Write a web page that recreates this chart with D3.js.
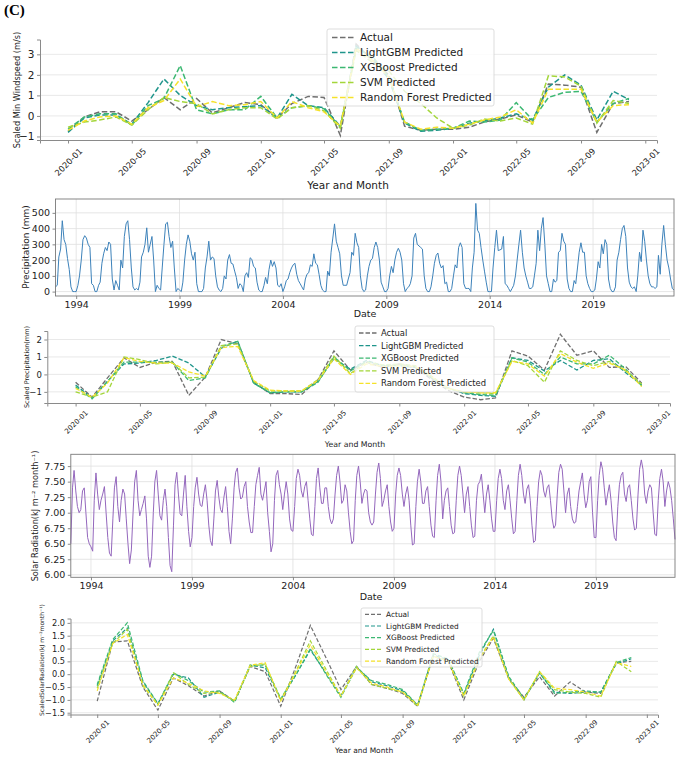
<!DOCTYPE html>
<html>
<head>
<meta charset="utf-8">
<script src="https://cdn.jsdelivr.net/npm/d3@7"></script>
<style>
  body { margin: 0; background: #fff; }
  svg { display: block; font-family: "DejaVu Sans", sans-serif; }
</style>
</head>
<body>
<div id="root"></div>
<script>
const svgWidth = 685;
const svgHeight = 757;

// test period shared by the three prediction panels
const testMonths = [
  "2020-01","2020-02","2020-03","2020-04","2020-05","2020-06","2020-07","2020-08","2020-09","2020-10","2020-11","2020-12",
  "2021-01","2021-02","2021-03","2021-04","2021-05","2021-06","2021-07","2021-08","2021-09","2021-10","2021-11","2021-12",
  "2022-01","2022-02","2022-03","2022-04","2022-05","2022-06","2022-07","2022-08","2022-09","2022-10","2022-11","2022-12"];
const testTicks = ["2020-01","2020-05","2020-09","2021-01","2021-05","2021-09","2022-01","2022-05","2022-09","2023-01"];
const modelNames = ["Actual", "LightGBM Predicted", "XGBoost Predicted", "SVM Predicted", "Random Forest Predicted"];
const modelColors = ["#6f6f6f", "#1f958b", "#3cb872", "#a3d63a", "#f5e22a"];

// scaled min windspeed
const windActual = [-0.75,-0.05,0.2,0.2,-0.25,0.3,0.9,0.3,0.85,0.15,0.4,0.65, 0.55,-0.1,0.6,0.95,0.9,-0.95,3.5,2.7,2.0,-0.5,-0.7,-0.65, -0.65,-0.55,-0.3,-0.15,0.05,-0.3,1.55,1.5,1.4,-0.8,0.6,0.7];
const windLGBM   = [-0.8,-0.1,0.05,0.05,-0.4,0.65,1.8,1.0,0.5,0.3,0.4,0.45, 0.5,-0.1,1.05,0.5,0.4,-0.5,3.4,2.8,1.8,-0.35,-0.75,-0.7, -0.6,-0.35,-0.25,-0.1,0.1,-0.2,1.4,2.0,1.5,-0.2,1.2,0.8];
const windXGB    = [-0.65,-0.05,0.1,0.1,-0.45,0.5,0.85,2.45,0.3,0.1,0.3,0.3, 0.95,-0.1,0.4,0.5,0.35,-0.55,3.3,2.9,1.9,-0.3,-0.7,-0.65, -0.6,-0.25,-0.3,-0.2,0.65,-0.2,0.9,1.15,1.2,-0.3,0.6,0.85];
const windSVM    = [-0.55,-0.3,-0.2,-0.05,-0.45,0.3,0.9,0.7,0.6,0.1,0.3,0.4, 0.4,-0.15,0.4,0.5,0.25,-0.6,3.2,2.6,2.2,1.2,0.6,-0.1, -0.6,-0.45,-0.15,-0.25,-0.1,-0.4,1.95,1.9,1.45,-0.35,0.75,0.6];
const windRF     = [-0.7,-0.25,-0.05,0.0,-0.4,0.4,0.75,1.8,0.45,0.7,0.5,0.55, 0.7,-0.1,0.7,0.4,0.2,-0.5,3.3,2.7,1.9,-0.3,-0.65,-0.55, -0.6,-0.4,-0.2,-0.05,0.3,-0.35,1.3,1.3,1.3,-0.3,0.5,0.55];

// scaled precipitation
const precActual = [-0.45,-1.3,-0.2,0.95,0.4,0.7,0.75,-1.2,-0.15,2.0,1.75,-0.45, -1.1,-1.1,-1.15,-0.3,1.35,0.25,0.7,0.4,0.6,0.4,-0.3,-0.9, -1.3,-1.45,-1.35,1.35,1.05,0.25,2.3,1.1,1.35,0.4,0.45,-0.5];
const precLGBM   = [-0.6,-1.35,-0.4,0.6,0.65,0.8,1.05,0.65,-0.15,1.5,1.9,-0.5, -1.05,-1.0,-1.0,-0.4,0.9,0.3,0.8,0.5,0.5,0.4,-0.2,-0.75, -1.1,-1.2,-1.25,0.95,0.8,0.2,0.8,0.25,0.8,0.9,0.1,-0.6];
const precXGB    = [-0.7,-1.4,-0.4,0.7,0.7,0.7,0.7,-0.35,-0.2,1.6,1.9,-0.5, -1.05,-1.0,-1.0,-0.45,1.0,0.2,0.75,0.5,0.55,0.45,-0.2,-0.8, -1.05,-1.15,-1.2,0.95,0.7,0.0,1.0,0.6,0.6,1.1,0.3,-0.65];
const precSVM    = [-1.0,-1.3,-1.0,1.0,0.85,0.6,0.7,-0.2,-0.15,1.65,1.75,-0.4, -0.95,-0.95,-0.95,-0.3,1.05,0.05,0.7,0.55,0.6,0.5,-0.1,-0.8, -1.0,-1.05,-1.1,0.8,0.5,-0.45,1.35,0.8,0.5,0.75,0.2,-0.55];
const precRF     = [-0.8,-1.3,-0.5,0.95,0.75,0.65,0.65,0.15,-0.1,1.55,1.6,-0.35, -0.9,-0.95,-0.95,-0.35,0.9,0.0,0.6,0.45,0.5,0.45,-0.15,-0.8, -1.0,-1.05,-1.05,0.75,0.6,-0.1,1.2,0.7,0.35,0.65,0.25,-0.7];

// scaled solar radiation
const solActual = [-1.05,1.25,1.3,-0.5,-1.4,-0.15,-0.45,-0.85,-0.65,-1.05,0.3,0.1, -1.25,0.35,1.9,0.65,-0.6,0.3,-0.4,-0.55,-0.75,-1.25,0.7,0.5, -1.0,0.5,1.4,-0.2,-0.9,-0.1,-0.85,-0.3,-0.7,-0.75,0.45,0.5];
const solLGBM   = [-0.45,1.3,1.8,-0.3,-1.15,0.0,-0.15,-0.9,-0.7,-1.05,0.35,0.25, -1.0,0.0,0.95,0.05,-0.85,0.3,-0.3,-0.45,-0.65,-1.2,0.75,0.55, -0.8,0.75,1.75,-0.15,-1.0,0.05,-0.7,-0.75,-0.7,-0.7,0.4,0.6];
const solXGB    = [-0.4,1.35,2.0,-0.25,-1.15,0.05,-0.25,-0.7,-0.65,-1.1,0.35,0.35, -0.95,0.0,1.0,0.0,-0.9,0.25,-0.25,-0.4,-0.6,-1.2,0.8,0.6, -0.75,0.85,1.7,-0.1,-0.95,0.05,-0.75,-0.7,-0.65,-0.7,0.45,0.65];
const solSVM    = [-0.55,1.2,1.75,-0.45,-1.2,0.05,-0.4,-0.75,-0.7,-1.05,0.3,0.4, -1.0,0.15,1.3,0.2,-0.85,0.3,-0.4,-0.55,-0.7,-1.25,0.7,0.5, -0.85,0.6,1.5,-0.2,-1.0,0.1,-0.6,-0.7,-0.75,-0.9,0.5,0.1];
const solRF     = [-0.65,1.2,1.55,-0.4,-1.2,-0.15,-0.35,-0.65,-0.75,-1.0,0.35,0.45, -1.05,0.1,1.15,0.1,-0.85,0.25,-0.35,-0.5,-0.7,-1.2,0.7,0.5, -0.85,0.6,1.45,-0.2,-1.0,0.1,-0.55,-0.6,-0.7,-0.85,0.45,0.3];

// long monthly records 1993-2022
const years = ["1993","1994","1995","1996","1997","1998","1999","2000","2001","2002","2003","2004","2005","2006","2007",
  "2008","2009","2010","2011","2012","2013","2014","2015","2016","2017","2018","2019","2020","2021","2022"];
const yearTicks = ["1994","1999","2004","2009","2014","2019"];

const precipMonthly = [
  [30,40,220,270,450,330,300,210,140,30,0,0],
  [0,40,100,200,330,355,340,300,280,50,40,0],
  [0,40,60,180,240,280,260,315,300,80,10,70],
  [40,10,200,150,350,430,450,330,150,30,10,20],
  [10,60,220,250,300,405,250,300,350,200,0,40],
  [20,10,150,300,430,440,350,280,320,150,0,20],
  [10,0,60,200,300,360,320,240,200,250,50,0],
  [0,0,20,150,220,320,200,220,210,100,30,10],
  [0,20,100,80,200,235,180,175,130,90,20,50],
  [40,0,100,120,90,215,205,160,150,60,10,0],
  [0,40,90,50,140,200,160,190,150,40,30,50],
  [0,30,70,80,120,150,170,180,110,70,50,30],
  [10,80,110,120,170,160,240,180,170,110,40,10],
  [0,0,130,100,250,340,430,320,280,240,100,40],
  [40,40,80,120,250,230,370,310,280,100,20,0],
  [10,100,160,200,210,280,315,280,200,60,30,0],
  [0,20,100,160,120,200,250,275,250,200,50,0],
  [20,30,50,100,340,370,300,290,280,270,100,20],
  [0,0,30,100,180,230,245,180,150,165,50,60],
  [0,0,20,100,170,150,280,310,280,50,20,20],
  [20,0,150,250,560,390,370,280,200,130,60,0],
  [0,0,150,280,390,260,265,270,350,50,40,20],
  [0,20,40,100,200,300,390,250,150,100,60,20],
  [20,30,100,180,390,260,400,470,300,100,50,0],
  [0,80,60,70,250,260,370,320,300,80,20,0],
  [0,70,50,150,250,310,250,250,100,50,20,0],
  [0,10,80,190,150,300,240,330,300,80,20,0],
  [0,30,200,250,330,400,420,350,150,60,30,20],
  [30,0,100,250,190,390,320,200,100,50,30,30],
  [20,30,230,110,300,420,300,200,150,80,20,10]];

const solarMonthly = [
  [6.5,7.4,7.68,7.35,7.1,7.0,7.05,7.35,7.4,7.0,6.6,6.5],
  [6.45,6.38,7.2,7.64,7.3,7.05,7.2,7.3,7.42,7.0,6.6,6.35],
  [6.3,6.9,7.4,7.58,7.1,6.85,7.2,7.38,7.3,6.9,6.5,6.18],
  [6.4,7.0,7.5,7.68,7.2,6.95,7.05,7.15,7.27,6.9,6.3,6.12],
  [6.3,7.0,7.5,7.68,7.3,6.95,6.88,7.2,7.38,7.1,6.6,6.15],
  [6.05,6.8,7.45,7.65,7.3,6.98,6.95,7.3,7.6,7.1,6.7,6.45],
  [6.6,7.1,7.4,7.57,7.3,7.12,7.1,7.3,7.45,7.2,6.8,6.55],
  [6.47,6.9,7.35,7.52,7.25,7.05,7.0,7.25,7.42,7.1,6.7,6.5],
  [6.9,7.4,7.65,7.72,7.4,7.22,7.25,7.42,7.5,7.1,6.85,6.68],
  [6.68,7.1,7.45,7.6,7.73,7.3,7.2,7.35,7.5,7.0,6.7,6.37],
  [6.5,7.2,7.6,7.68,7.45,7.3,7.05,7.3,7.5,7.3,6.9,6.72],
  [6.7,7.1,7.55,7.7,7.6,7.35,7.25,7.42,7.5,7.2,6.9,6.65],
  [6.63,7.1,7.55,7.72,7.4,7.15,7.15,7.4,7.4,7.1,6.9,6.82],
  [6.9,7.3,7.6,7.75,7.5,7.15,7.2,7.45,7.35,7.0,6.7,6.5],
  [6.55,7.2,7.6,7.75,7.5,7.15,7.3,7.38,7.35,7.0,6.85,6.8],
  [6.85,7.3,7.65,7.8,7.55,7.1,7.2,7.35,7.45,7.1,6.85,6.7],
  [6.75,7.3,7.6,7.72,7.6,7.3,7.1,7.3,7.42,7.2,6.8,6.48],
  [6.5,7.1,7.5,7.7,7.5,7.15,7.15,7.35,7.42,7.1,6.8,6.62],
  [6.6,7.2,7.6,7.78,7.5,6.9,7.2,7.35,7.4,7.1,6.8,6.66],
  [6.68,7.2,7.6,7.75,7.6,7.3,7.0,7.3,7.42,7.1,6.8,6.6],
  [6.62,7.2,7.45,7.5,7.62,7.3,7.0,7.3,7.45,7.2,6.9,6.7],
  [6.7,7.2,7.55,7.7,7.55,7.2,7.05,7.35,7.45,7.2,6.9,6.66],
  [6.7,7.2,7.6,7.78,7.6,7.3,7.15,7.38,7.45,7.2,6.8,6.52],
  [6.55,7.1,7.5,7.68,7.6,7.35,7.25,7.4,7.45,7.2,6.9,6.75],
  [6.8,7.3,7.65,7.78,7.7,7.35,7.0,7.3,7.4,7.1,6.9,6.83],
  [6.85,7.1,7.35,7.5,7.64,7.3,7.08,7.2,7.5,7.58,7.0,6.6],
  [6.6,7.2,7.6,7.82,7.7,7.4,7.12,7.3,7.45,7.2,6.85,6.6],
  [6.55,7.1,7.45,7.6,7.65,7.3,7.18,7.4,7.45,7.2,6.9,6.72],
  [6.75,7.3,7.7,7.85,7.7,7.3,7.15,7.35,7.45,7.4,7.0,6.65],
  [6.63,7.2,7.55,7.7,7.5,7.1,7.35,7.5,7.4,7.2,6.9,6.57]];

const windTicks = [-1, 0, 1, 2, 3];
const precTicks = [-1, 0, 1, 2];
const solTicks = [-1.5, -1.0, -0.5, 0.0, 0.5, 1.0, 1.5, 2.0];
const precipTicks = [0, 100, 200, 300, 400, 500];
const solarTicks = [6.0, 6.25, 6.5, 6.75, 7.0, 7.25, 7.5, 7.75];


const parseMonth = d3.timeParse("%Y-%m");
const parseYear = d3.timeParse("%Y");
const testDates = testMonths.map(parseMonth);

const mainSvg = d3.select("#root")
  .append("svg")
  .attr("width", svgWidth)
  .attr("height", svgHeight);

mainSvg.append("text")
  .attr("x", 4).attr("y", 15)
  .attr("font-family", "'Liberation Serif', serif")
  .attr("font-weight", "bold")
  .attr("font-size", 15)
  .text("(C)");

const padExtent = (ext) => {
  const p = (ext[1] - ext[0]) * 0.05;
  return [ext[0] - p, ext[1] + p];
};

const styleAxis = (sel, fontSize) => {
  sel.attr("font-family", null).attr("font-size", null);
  sel.select(".domain").attr("stroke", "#8a8a8a");
  sel.selectAll(".tick line").attr("stroke", "#8a8a8a");
  sel.selectAll(".tick text").attr("fill", "#222").attr("font-size", fontSize);
};

const addLabel = (x, y, size, text, rotate) => {
  mainSvg.append("text")
    .attr("transform", `translate(${x},${y})` + (rotate ? " rotate(-90)" : ""))
    .attr("text-anchor", "middle")
    .attr("font-size", size)
    .attr("fill", "#222")
    .text(text);
};

const drawLegend = (lg) => {
  const g = mainSvg.append("g");
  g.append("rect")
    .attr("x", lg.x).attr("y", lg.y).attr("width", lg.w).attr("height", lg.h).attr("rx", 2)
    .attr("fill", "#fff").attr("fill-opacity", 0.8)
    .attr("stroke", "#d4d4d4").attr("stroke-width", 0.8);
  modelNames.forEach((name, i) => {
    const cy = lg.row0 + i * lg.step;
    g.append("line")
      .attr("x1", lg.h0).attr("x2", lg.h1).attr("y1", cy).attr("y2", cy)
      .attr("stroke", modelColors[i]).attr("stroke-width", lg.lw)
      .attr("stroke-dasharray", lg.dash);
    g.append("text")
      .attr("x", lg.tx).attr("y", cy).attr("dy", "0.35em")
      .attr("font-size", lg.font).attr("fill", "#222")
      .text(name);
  });
};

// prediction panels: dashed lines, left/bottom spines, horizontal grid
const drawPredPanel = (p) => {
  const first = testDates[0], last = testDates[testDates.length - 1];
  const tPad = (last - first) * 0.05;
  const xScale = d3.scaleTime()
    .domain([new Date(+first - tPad), new Date(+last + tPad)])
    .range([p.left, p.right]);
  const yScale = d3.scaleLinear()
    .domain(padExtent(d3.extent(p.series.flat())))
    .range([p.bottom, p.top]);

  const g = mainSvg.append("g");

  g.append("g").selectAll("line")
    .data(p.yTicks)
    .join("line")
    .attr("x1", p.left).attr("x2", p.right)
    .attr("y1", d => yScale(d)).attr("y2", d => yScale(d))
    .attr("stroke", "#e3e3e3").attr("stroke-width", 0.8);

  const yAxis = g.append("g")
    .attr("transform", `translate(${p.left},0)`)
    .call(d3.axisLeft(yScale).tickValues(p.yTicks).tickFormat(p.yFormat)
      .tickSizeOuter(0).tickSize(3).tickPadding(2.5));
  styleAxis(yAxis, p.yTickFont);

  const xAxis = g.append("g")
    .attr("transform", `translate(0,${p.bottom})`)
    .call(d3.axisBottom(xScale).tickValues(testTicks.map(parseMonth))
      .tickFormat(d3.timeFormat("%Y-%m")).tickSizeOuter(0).tickSize(3.5));
  styleAxis(xAxis, p.xTickFont);
  xAxis.selectAll(".tick text")
    .attr("y", 0).attr("dy", "0.35em")
    .attr("text-anchor", "middle")
    .attr("transform", `translate(0,${p.xTickOffset}) rotate(-45)`);

  const line = d3.line()
    .x((d, i) => xScale(testDates[i]))
    .y(d => yScale(d));

  g.append("g").selectAll("path")
    .data(p.series)
    .join("path")
    .attr("d", d => line(d))
    .attr("fill", "none")
    .attr("stroke", (d, i) => modelColors[i])
    .attr("stroke-width", p.lw)
    .attr("stroke-dasharray", p.dash);

  drawLegend(p.legend);
  addLabel(p.xLabel[0], p.xLabel[1], p.xLabel[2], "Year and Month", false);
  addLabel(p.yLabel[0], p.yLabel[1], p.yLabel[2], p.yLabel[3], true);
};

// long records: full frame, grid both ways
const drawSeriesPanel = (p) => {
  const dates = [];
  const values = [];
  years.forEach((yr, r) => {
    p.monthly[r].forEach((v, m) => {
      dates.push(new Date(+yr, m, 1));
      values.push(v);
    });
  });

  const xScale = d3.scaleTime()
    .domain(d3.extent(dates))
    .range([p.left, p.right]);
  const yScale = d3.scaleLinear()
    .domain(padExtent(d3.extent(values)))
    .range([p.bottom, p.top]);
  const xTickDates = yearTicks.map(parseYear);

  const g = mainSvg.append("g");

  g.append("g").selectAll("line")
    .data(p.yTicks)
    .join("line")
    .attr("x1", p.left).attr("x2", p.right)
    .attr("y1", d => yScale(d)).attr("y2", d => yScale(d))
    .attr("stroke", "#e0e0e0").attr("stroke-width", 0.8);
  g.append("g").selectAll("line")
    .data(xTickDates)
    .join("line")
    .attr("x1", d => xScale(d)).attr("x2", d => xScale(d))
    .attr("y1", p.top).attr("y2", p.bottom)
    .attr("stroke", "#e0e0e0").attr("stroke-width", 0.8);

  const yAxis = g.append("g")
    .attr("transform", `translate(${p.left},0)`)
    .call(d3.axisLeft(yScale).tickValues(p.yTicks).tickFormat(p.yFormat)
      .tickSizeOuter(0).tickSize(3).tickPadding(2.5));
  styleAxis(yAxis, p.tickFont);
  yAxis.select(".domain").remove();

  const xAxis = g.append("g")
    .attr("transform", `translate(0,${p.bottom})`)
    .call(d3.axisBottom(xScale).tickValues(xTickDates)
      .tickFormat(d3.timeFormat("%Y")).tickSizeOuter(0).tickSize(3).tickPadding(p.xPad));
  styleAxis(xAxis, p.tickFont);
  xAxis.select(".domain").remove();

  g.append("path")
    .datum(values)
    .attr("d", d3.line().x((d, i) => xScale(dates[i])).y(d => yScale(d)))
    .attr("fill", "none")
    .attr("stroke", p.color)
    .attr("stroke-width", 1);

  g.append("rect")
    .attr("x", p.left).attr("y", p.top)
    .attr("width", p.right - p.left).attr("height", p.bottom - p.top)
    .attr("fill", "none").attr("stroke", "#7a7a7a").attr("stroke-width", 0.9);

  addLabel(p.xLabel[0], p.xLabel[1], p.xLabel[2], "Date", false);
  addLabel(p.yLabel[0], p.yLabel[1], p.yLabel[2], p.yLabel[3], true);
};


drawPredPanel({
  left: 40, right: 657, top: 39.5, bottom: 140,
  series: [windActual, windLGBM, windXGB, windSVM, windRF],
  yTicks: windTicks, yFormat: d3.format("d"), yTickFont: 10.5,
  xTickFont: 8.4, xTickOffset: 22,
  lw: 1.5, dash: "5.5,2.5",
  xLabel: [348, 189, 10.5], yLabel: [20, 90, 8.2, "Scaled Min Windspeed (m/s)"],
  legend: { x: 327, y: 29, w: 167, h: 77, row0: 37.5, step: 15, h0: 332, h1: 354, tx: 360,
    font: 10.5, lw: 1.5, dash: "5.5,2.5" }
});

drawSeriesPanel({
  left: 55.5, right: 674, top: 199, bottom: 296,
  monthly: precipMonthly, color: "#3d82ba",
  yTicks: precipTicks, yFormat: d3.format("d"), tickFont: 9.5, xPad: 2.5,
  xLabel: [365, 317, 9.5], yLabel: [29, 247, 9, "Precipitation (mm)"]
});

drawPredPanel({
  left: 47.3, right: 670, top: 331, bottom: 403,
  series: [precActual, precLGBM, precXGB, precSVM, precRF],
  yTicks: precTicks, yFormat: d3.format("d"), yTickFont: 8.5,
  xTickFont: 7.1, xTickOffset: 19,
  lw: 1.3, dash: "4.5,2",
  xLabel: [355, 447, 7.8], yLabel: [29, 367, 6.5, "Scaled Precipitation(mm)"],
  legend: { x: 355, y: 326, w: 139, h: 66, row0: 333, step: 12.6, h0: 359, h1: 377, tx: 381,
    font: 8.4, lw: 1.3, dash: "4.5,2" }
});

drawSeriesPanel({
  left: 70.8, right: 675, top: 454.3, bottom: 577.3,
  monthly: solarMonthly, color: "#9467bd",
  yTicks: solarTicks, yFormat: d3.format(".2f"), tickFont: 9.5, xPad: 1.5,
  xLabel: [371, 600, 9.5], yLabel: [38, 516, 8.2, "Solar Radiation(kJ m\u207B\u00B2 month\u207B\u00B9)"]
});

drawPredPanel({
  left: 70.5, right: 658, top: 618.5, bottom: 714.5,
  series: [solActual, solLGBM, solXGB, solSVM, solRF],
  yTicks: solTicks, yFormat: d3.format(".1f"), yTickFont: 8.2,
  xTickFont: 7, xTickOffset: 17,
  lw: 1.2, dash: "4,2",
  xLabel: [364, 753, 7.5], yLabel: [44, 660, 6, "ScaledSolarRadiation(kJ m\u207B\u00B2month\u207B\u00B9)"],
  legend: { x: 361, y: 608, w: 121, h: 59, row0: 614.3, step: 11.7, h0: 365, h1: 381, tx: 386,
    font: 7.4, lw: 1.2, dash: "4,2" }
});
</script>
</body>
</html>
